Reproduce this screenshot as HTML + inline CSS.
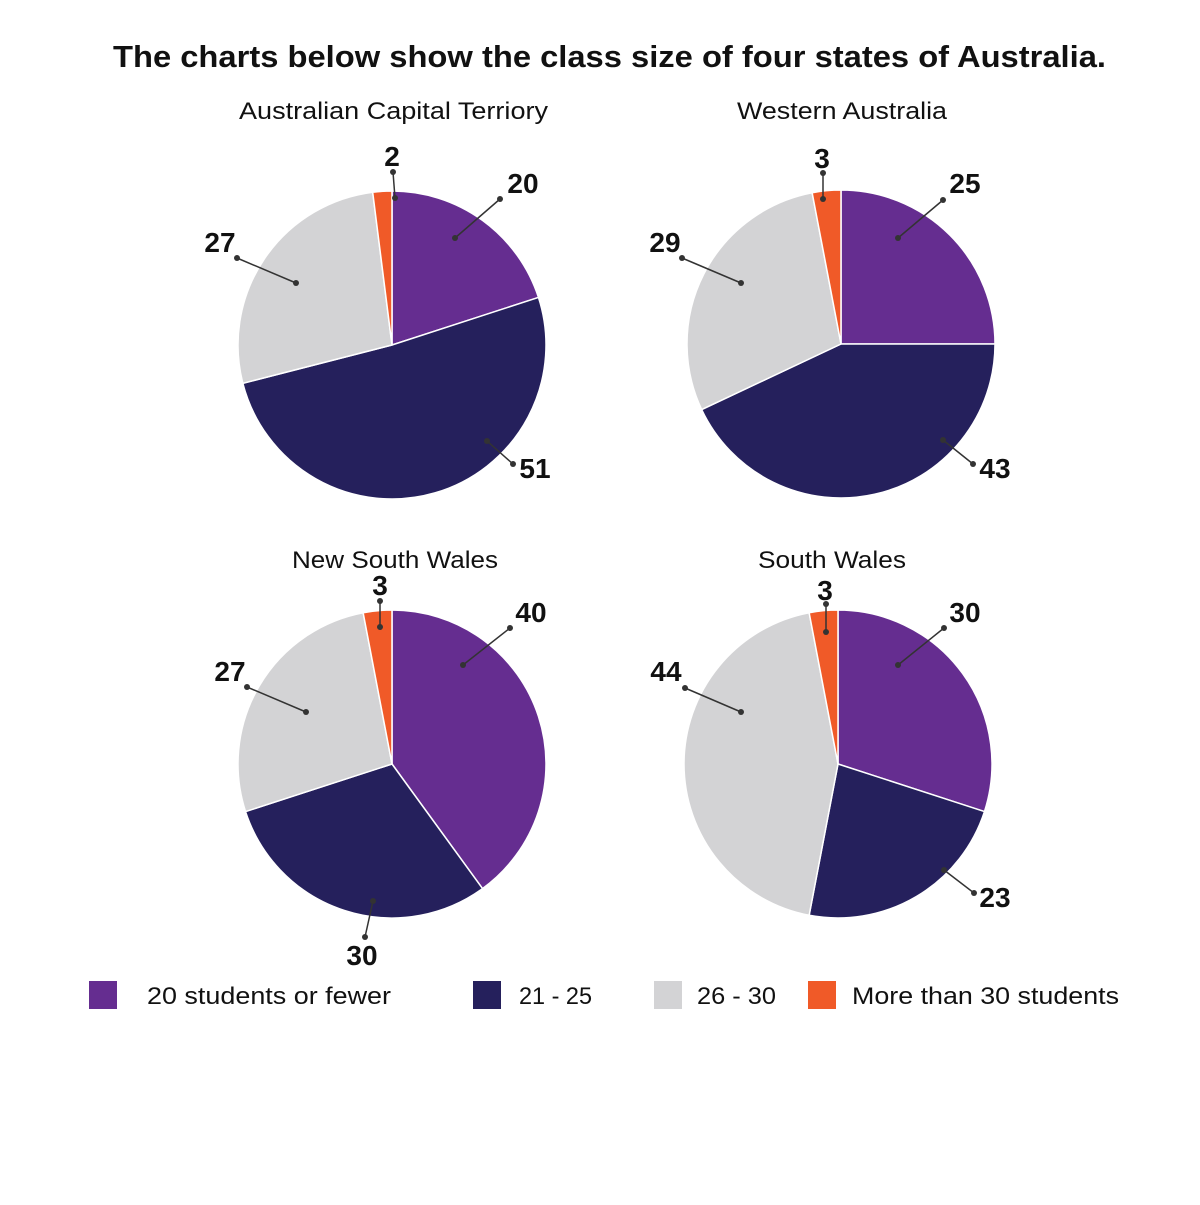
<!DOCTYPE html>
<html><head><meta charset="utf-8"><style>
html,body{margin:0;padding:0;background:#fff;}
svg text{font-family:"Liberation Sans",sans-serif;fill:#111;}
</style></head><body>
<svg id="s" width="1200" height="1200" viewBox="0 0 1200 1200" xmlns="http://www.w3.org/2000/svg">
<rect width="1200" height="1200" fill="#fff"/>
<text x="113" y="67" font-size="31" font-weight="bold" textLength="993" lengthAdjust="spacingAndGlyphs">The charts below show the class size of four states of Australia.</text>
<text x="239" y="119" font-size="24" textLength="309" lengthAdjust="spacingAndGlyphs">Australian Capital Terriory</text>
<text x="737" y="119" font-size="24" textLength="210" lengthAdjust="spacingAndGlyphs">Western Australia</text>
<text x="292" y="568" font-size="24" textLength="206" lengthAdjust="spacingAndGlyphs">New South Wales</text>
<text x="758" y="568" font-size="24" textLength="148" lengthAdjust="spacingAndGlyphs">South Wales</text>
<g id="pies"></g>
<g id="labels" font-size="28" font-weight="bold"></g>
<rect x="89" y="981" width="28" height="28" fill="#652d90"/>
<text x="147" y="1004" font-size="24" textLength="244" lengthAdjust="spacingAndGlyphs">20 students or fewer</text>
<rect x="473" y="981" width="28" height="28" fill="#25205c"/>
<text x="519" y="1004" font-size="24" textLength="73" lengthAdjust="spacingAndGlyphs">21 - 25</text>
<rect x="654" y="981" width="28" height="28" fill="#d3d3d5"/>
<text x="697" y="1004" font-size="24" textLength="79" lengthAdjust="spacingAndGlyphs">26 - 30</text>
<rect x="808" y="981" width="28" height="28" fill="#f05a28"/>
<text x="852" y="1004" font-size="24" textLength="267" lengthAdjust="spacingAndGlyphs">More than 30 students</text>
</svg>
<script>
var C=["#652d90","#25205c","#d3d3d5","#f05a28"];
var pies=[[392,345,[20,51,27,2]],[841,344,[25,43,29,3]],[392,764,[40,30,27,3]],[838,764,[30,23,44,3]]];
var g=document.getElementById("pies"),h="";
pies.forEach(function(p){var cx=p[0],cy=p[1],r=154,a=0;
p[2].forEach(function(v,i){var a0=a/100*2*Math.PI,a1=(a+v)/100*2*Math.PI;a+=v;
var x0=cx+r*Math.sin(a0),y0=cy-r*Math.cos(a0),x1=cx+r*Math.sin(a1),y1=cy-r*Math.cos(a1);
h+='<path d="M'+cx+' '+cy+' L'+x0+' '+y0+' A'+r+' '+r+' 0 '+(v>50?1:0)+' 1 '+x1+' '+y1+' Z" fill="'+C[i]+'" stroke="#fff" stroke-width="1.5"/>';});});
g.innerHTML=h;
var L=[["2",392,166,393,172,395,198],["20",523,193,500,199,455,238],["27",220,252,237,258,296,283],["51",535,478,513,464,487,441],
["3",822,168,823,173,823,199],["25",965,193,943,200,898,238],["29",665,252,682,258,741,283],["43",995,478,973,464,943,440],
["3",380,595,380,601,380,627],["40",531,622,510,628,463,665],["27",230,681,247,687,306,712],["30",362,965,365,937,373,901],
["3",825,600,826,604,826,632],["30",965,622,944,628,898,665],["44",666,681,685,688,741,712],["23",995,907,974,893,944,870]];
var lg=document.getElementById("labels"),t="";
L.forEach(function(l){t+='<line x1="'+l[3]+'" y1="'+l[4]+'" x2="'+l[5]+'" y2="'+l[6]+'" stroke="#333" stroke-width="1.5"/><circle cx="'+l[3]+'" cy="'+l[4]+'" r="3" fill="#333"/><circle cx="'+l[5]+'" cy="'+l[6]+'" r="3" fill="#333"/><text x="'+l[1]+'" y="'+l[2]+'" text-anchor="middle">'+l[0]+'</text>';});
lg.innerHTML=t;
</script>
</body></html>
